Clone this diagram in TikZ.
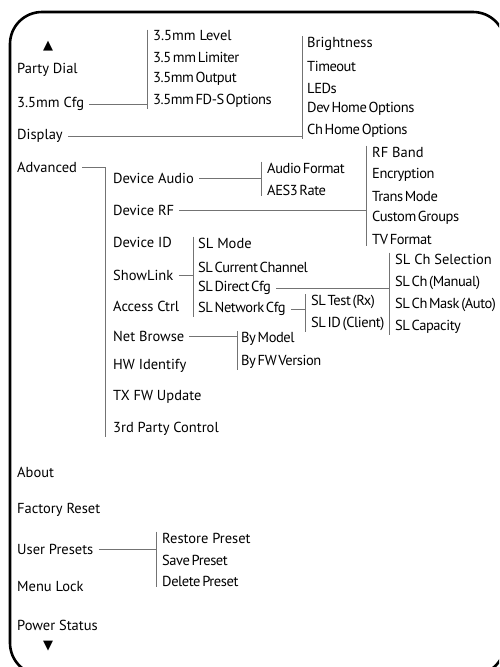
\documentclass[tikz,border=0pt]{standalone}
\usepackage{fontspec}
\setmainfont{PT Sans}
\newfontfamily\tightfont{PT Sans}[LetterSpace=-3,WordSpace=0.5]
\newfontfamily\symfont{DejaVu Sans}

\begin{document}
\begin{tikzpicture}[x=1pt,y=-1pt,
    menu/.style={anchor=west,inner sep=1pt,font=\fontsize{14.5}{16}\selectfont},
    tight/.style={menu,font=\tightfont\fontsize{14.5}{16}\selectfont},
    link/.style={draw=black!55,line width=0.7pt},
    arrowmark/.style={inner sep=0pt,font=\symfont\fontsize{13}{13}\selectfont}]
\useasboundingbox (0,0) rectangle (499,667);
\begin{scope}
  \clip (0,0) rectangle (499,667);
  \draw[line width=2.6pt,rounded corners=32pt] (10,12) rectangle (505,675);
\end{scope}

% top level
\node[arrowmark] (up) at (48,46) {▲};
\node[menu] (pd)   at (16,70)  {Party Dial};
\node[menu] (cfg)  at (16,104) {3.5mm Cfg};
\node[menu] (disp) at (16,136) {Display};
\node[menu] (adv)  at (16,167) {Advanced};
\node[menu] (about) at (16,472) {About};
\node[menu] (frst) at (16,510) {Factory Reset};
\node[menu] (ups)  at (16,549) {User Presets};
\node[menu] (ml)   at (16,587) {Menu Lock};
\node[menu] (ps)   at (16,625) {Power Status};
\node[arrowmark] (down) at (48,646) {▼};

% 3.5mm Cfg
\node[menu]  (lvl) at (152,36)  {3.5mm Level};
\node[tight] (lim) at (152,57)  {3.5 mm Limiter};
\node[tight] (out) at (152,79)  {3.5mm Output};
\node[tight] (fds) at (152,101) {3.5mm FD-S Options};

% Display
\node[menu]  (bri) at (306,44)  {Brightness};
\node[tight] (tmo) at (306,66)  {Timeout};
\node[tight] (led) at (306,88)  {LEDs};
\node[tight] (dho) at (306,109) {Dev Home Options};
\node[tight] (cho) at (306,131) {Ch Home Options};

% Advanced
\node[menu] (da)  at (112,178) {Device Audio};
\node[menu] (drf) at (112,210) {Device RF};
\node[menu] (did) at (112,242) {Device ID};
\node[menu] (sl)  at (112,275) {ShowLink};
\node[menu] (ac)  at (112,306) {Access Ctrl};
\node[menu] (nb)  at (112,336) {Net Browse};
\node[menu] (hw)  at (112,366) {HW Identify};
\node[menu] (fw)  at (112,397) {TX FW Update};
\node[menu] (tpc) at (112,429) {3rd Party Control};

% Device Audio
\node[tight] (afm) at (266,168) {Audio Format};
\node[tight] (aes) at (266,190) {AES3 Rate};

% Device RF
\node[menu]  (rfb) at (371,152) {RF Band};
\node[tight] (enc) at (371,175) {Encryption};
\node[tight] (trm) at (371,197) {Trans Mode};
\node[tight] (cg)  at (371,218) {Custom Groups};
\node[tight] (tvf) at (371,240) {TV Format};

% ShowLink
\node[menu]  (slm) at (197,243) {SL Mode};
\node[tight] (slc) at (197,267) {SL Current Channel};
\node[tight] (sld) at (197,288) {SL Direct Cfg};
\node[tight] (sln) at (197,309) {SL Network Cfg};

% SL Direct Cfg
\node[menu]  (sls)  at (394,259) {SL Ch Selection};
\node[tight] (slch) at (394,283) {SL Ch (Manual)};
\node[tight] (slmk) at (394,305) {SL Ch Mask (Auto)};
\node[tight] (slcp) at (394,327) {SL Capacity};

% SL Network Cfg
\node[tight] (slt) at (310,302) {SL Test (Rx)};
\node[tight] (sli) at (310,324) {SL ID (Client)};

% Net Browse
\node[tight] (bym) at (240,339) {By Model};
\node[tight] (byf) at (240,362) {By FW Version};

% User Presets
\node[menu]  (rp) at (161,538) {Restore Preset};
\node[tight] (sp) at (161,560) {Save Preset};
\node[tight] (dp) at (161,581) {Delete Preset};

% connectors: parent/first child/last child/offset
\foreach \p/\a/\b/\s in {cfg/lvl/fds/5, disp/bri/cho/4, adv/da/tpc/7,
    da/afm/aes/5, drf/rfb/tvf/5, sl/slm/sln/4, sld/sls/slcp/5,
    sln/slt/sli/5, nb/bym/byf/3, ups/rp/dp/5}{
  \draw[link] ([xshift=4pt]\p.east) -| ([xshift=-\s pt]\a.north west);
  \draw[link] ([xshift=-\s pt]\a.north west) -- ([xshift=-\s pt]\b.south west);
}
\end{tikzpicture}
\end{document}
